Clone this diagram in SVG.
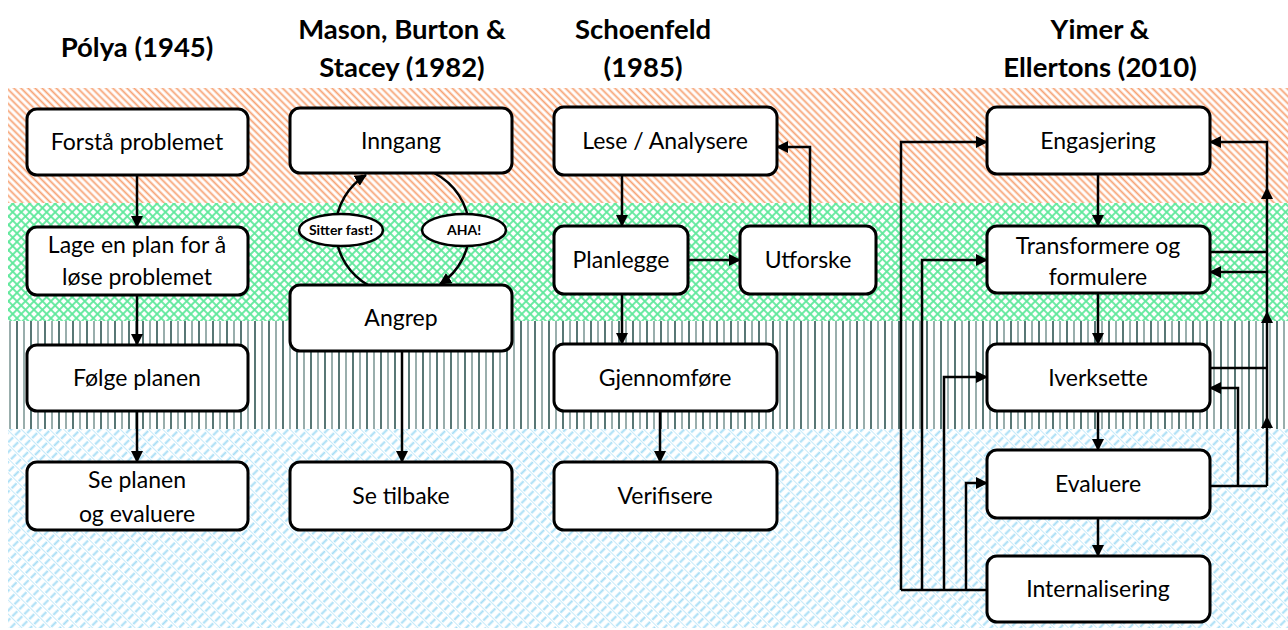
<svg xmlns="http://www.w3.org/2000/svg" width="1288" height="630" viewBox="0 0 1288 630">
  <style>
    .box { fill: #ffffff; stroke: #000000; stroke-width: 3; }
    .lbl { font-family: Lato, "Liberation Sans", sans-serif; font-size: 23px; fill: #000000; text-anchor: middle; }
    .hd { font-family: Lato, "Liberation Sans", sans-serif; font-size: 27.5px; font-weight: bold; fill: #000000; text-anchor: middle; }
    .ell { fill: #ffffff; stroke: #000000; stroke-width: 2.5; }
    .elbl { font-family: Lato, "Liberation Sans", sans-serif; font-size: 14px; font-weight: bold; fill: #000000; text-anchor: middle; }
    .ln { fill: none; stroke: #000000; stroke-width: 2.5; }
    .arr { fill: none; stroke: #000000; stroke-width: 2.5; marker-end: url(#head); }
  </style>
  <defs>
    <marker id="head" viewBox="0 0 12 12" refX="11" refY="6" markerWidth="12" markerHeight="12" markerUnits="userSpaceOnUse" orient="auto">
      <path d="M0,0 L12,6 L0,12 Z" fill="#000000"/>
    </marker>
    <pattern id="pOrange" width="5" height="5" patternUnits="userSpaceOnUse" patternTransform="rotate(-45)">
      <rect width="5" height="5" fill="#ffffff"/>
      <line x1="2.5" y1="0" x2="2.5" y2="5" stroke="#F7A273" stroke-width="1.8"/>
    </pattern>
    <pattern id="pGreen" width="6" height="6" patternUnits="userSpaceOnUse" patternTransform="rotate(45)">
      <rect width="6" height="6" fill="#ffffff"/>
      <line x1="3" y1="0" x2="3" y2="6" stroke="#5FE89B" stroke-width="1.8"/>
      <line x1="0" y1="3" x2="6" y2="3" stroke="#5FE89B" stroke-width="1.8"/>
    </pattern>
    <pattern id="pVert" width="14" height="10" patternUnits="userSpaceOnUse">
      <rect width="14" height="10" fill="#ffffff"/>
      <line x1="3" y1="0" x2="3" y2="10" stroke="#2E5553" stroke-width="1.6"/>
      <line x1="10" y1="0" x2="10" y2="10" stroke="#7F9A98" stroke-width="1.6"/>
    </pattern>
    <pattern id="pBlue" width="7" height="10" patternUnits="userSpaceOnUse" patternTransform="rotate(45)">
      <rect width="7" height="10" fill="#ffffff"/>
      <line x1="3.5" y1="0" x2="3.5" y2="7" stroke="#A6DDF5" stroke-width="2"/>
      <line x1="0" y1="8.5" x2="7" y2="8.5" stroke="#C8EAF9" stroke-width="1"/>
    </pattern>
  </defs>

  <rect width="1288" height="630" fill="#ffffff"/>

  <!-- background bands -->
  <g id="bands">
    <rect x="8" y="88" width="1280" height="115" fill="url(#pOrange)"/>
    <rect x="8" y="203" width="1280" height="118" fill="url(#pGreen)"/>
    <rect x="8" y="321" width="1280" height="108" fill="url(#pVert)"/>
    <rect x="8" y="429" width="1280" height="199" fill="url(#pBlue)"/>
  </g>

  <!-- column headings -->
  <g id="headings">
    <text class="hd" x="137" y="57">Pólya (1945)</text>
    <text class="hd" x="402" y="39">Mason, Burton &amp;</text>
    <text class="hd" x="402" y="77">Stacey (1982)</text>
    <text class="hd" x="643" y="39">Schoenfeld</text>
    <text class="hd" x="643" y="77">(1985)</text>
    <text class="hd" x="1100" y="39">Yimer &amp;</text>
    <text class="hd" x="1100" y="77">Ellertons (2010)</text>
  </g>

  <!-- connectors -->
  <g id="connectors">
    <!-- Pólya -->
    <path class="arr" d="M137,175 V227"/>
    <path class="arr" d="M137,295 V345"/>
    <path class="arr" d="M137,411 V462"/>
    <!-- Mason, Burton & Stacey -->
    <path class="arr" d="M368,285 A64,64 0 0 1 366,175"/>
    <path class="arr" d="M434,173 A64,64 0 0 1 440,284"/>
    <path class="arr" d="M402,351 V462"/>
    <!-- Schoenfeld -->
    <path class="arr" d="M622,175 V226"/>
    <path class="arr" d="M688,260 H740"/>
    <path class="arr" d="M810,226 V147 H777"/>
    <path class="arr" d="M622,294 V344"/>
    <path class="arr" d="M660,411 V462"/>
    <!-- Yimer & Ellertons: downward chain -->
    <path class="arr" d="M1098,174 V226"/>
    <path class="arr" d="M1098,293 V344"/>
    <path class="arr" d="M1098,411 V450"/>
    <path class="arr" d="M1098,518 V556"/>
    <!-- left feedback from Internalisering -->
    <path class="ln" d="M987,590 H901"/>
    <path class="arr" d="M901,590 V142 H987"/>
    <path class="arr" d="M922,590 V260 H987"/>
    <path class="arr" d="M944,590 V377 H987"/>
    <path class="arr" d="M966,590 V483 H987"/>
    <!-- right feedback trunk -->
    <path class="ln" d="M1210,486 H1267"/>
    <path class="arr" d="M1267,486 V417"/>
    <path class="arr" d="M1267,417 V312"/>
    <path class="arr" d="M1267,312 V188"/>
    <path class="arr" d="M1267,188 V142 H1210"/>
    <path class="ln" d="M1210,252 H1267"/>
    <path class="arr" d="M1267,272 H1210"/>
    <path class="ln" d="M1210,368 H1267"/>
    <path class="arr" d="M1238,486 V388 H1210"/>
  </g>

  <!-- Pólya nodes -->
  <g id="polya-1"><rect class="box" x="27" y="109" width="221" height="66" rx="10"/><text class="lbl" x="137" y="150">Forstå problemet</text></g>
  <g id="polya-2"><rect class="box" x="27" y="227" width="221" height="68" rx="10"/><text class="lbl" x="137" y="253">Lage en plan for å</text><text class="lbl" x="137" y="285">løse problemet</text></g>
  <g id="polya-3"><rect class="box" x="27" y="345" width="221" height="66" rx="10"/><text class="lbl" x="137" y="386">Følge planen</text></g>
  <g id="polya-4"><rect class="box" x="27" y="462" width="221" height="68" rx="10"/><text class="lbl" x="137" y="488">Se planen</text><text class="lbl" x="137" y="522">og evaluere</text></g>

  <!-- Mason, Burton & Stacey nodes -->
  <g id="mbs-1"><rect class="box" x="290" y="108" width="222" height="65" rx="10"/><text class="lbl" x="401" y="149">Inngang</text></g>
  <g id="mbs-stuck"><ellipse class="ell" cx="341" cy="230" rx="42" ry="16"/><text class="elbl" x="341" y="235">Sitter fast!</text></g>
  <g id="mbs-aha"><ellipse class="ell" cx="464" cy="230" rx="42" ry="16"/><text class="elbl" x="464" y="235">AHA!</text></g>
  <g id="mbs-2"><rect class="box" x="290" y="285" width="222" height="66" rx="10"/><text class="lbl" x="401" y="326">Angrep</text></g>
  <g id="mbs-3"><rect class="box" x="290" y="462" width="222" height="68" rx="10"/><text class="lbl" x="401" y="504">Se tilbake</text></g>

  <!-- Schoenfeld nodes -->
  <g id="sch-1"><rect class="box" x="554" y="107" width="223" height="68" rx="10"/><text class="lbl" x="665" y="149">Lese / Analysere</text></g>
  <g id="sch-2"><rect class="box" x="554" y="226" width="134" height="68" rx="10"/><text class="lbl" x="621" y="268">Planlegge</text></g>
  <g id="sch-3"><rect class="box" x="740" y="226" width="136" height="68" rx="10"/><text class="lbl" x="808" y="268">Utforske</text></g>
  <g id="sch-4"><rect class="box" x="554" y="344" width="223" height="67" rx="10"/><text class="lbl" x="665" y="386">Gjennomføre</text></g>
  <g id="sch-5"><rect class="box" x="554" y="462" width="223" height="68" rx="10"/><text class="lbl" x="665" y="504">Verifisere</text></g>

  <!-- Yimer & Ellertons nodes -->
  <g id="ye-1"><rect class="box" x="987" y="107" width="223" height="67" rx="10"/><text class="lbl" x="1098" y="149">Engasjering</text></g>
  <g id="ye-2"><rect class="box" x="987" y="226" width="223" height="67" rx="10"/><text class="lbl" x="1098" y="254">Transformere og</text><text class="lbl" x="1098" y="285">formulere</text></g>
  <g id="ye-3"><rect class="box" x="987" y="344" width="223" height="67" rx="10"/><text class="lbl" x="1098" y="386">Iverksette</text></g>
  <g id="ye-4"><rect class="box" x="987" y="450" width="223" height="68" rx="10"/><text class="lbl" x="1098" y="492">Evaluere</text></g>
  <g id="ye-5"><rect class="box" x="987" y="556" width="223" height="66" rx="10"/><text class="lbl" x="1098" y="597">Internalisering</text></g>
</svg>
